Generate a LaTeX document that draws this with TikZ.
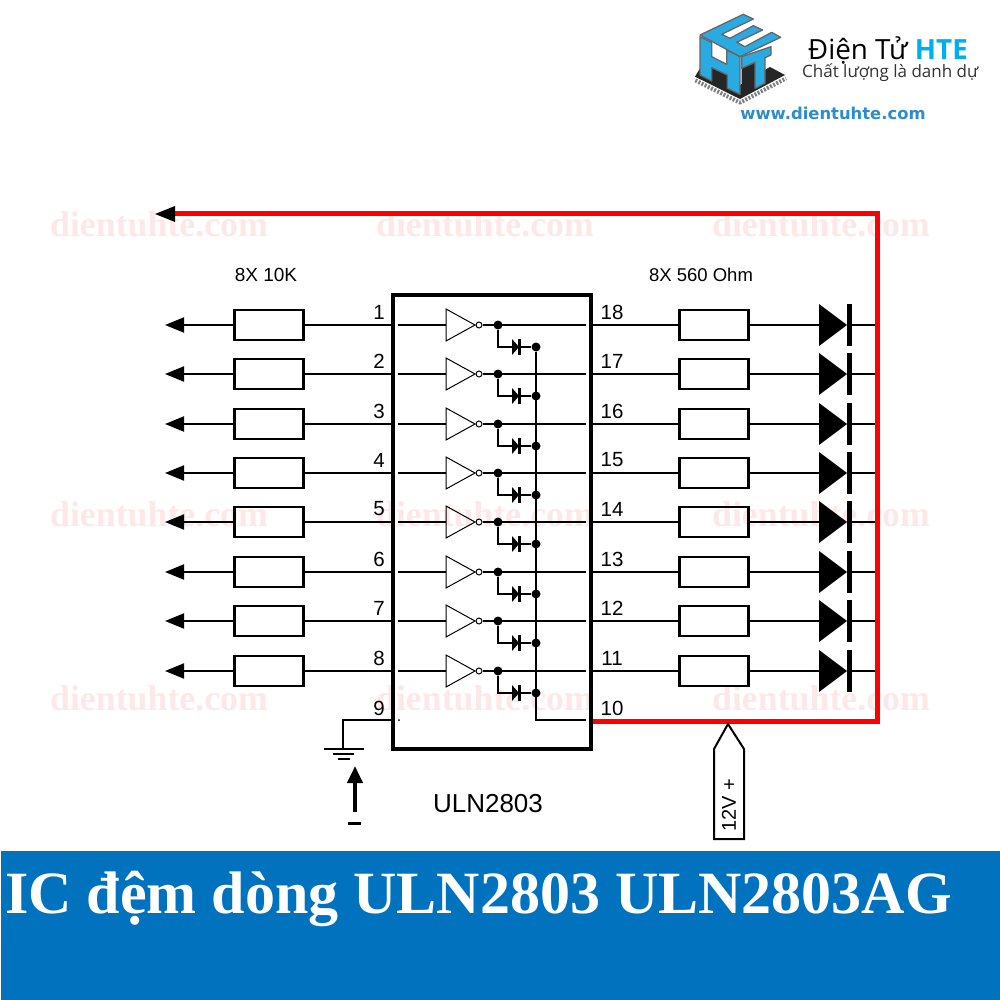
\documentclass[tikz,border=0pt]{standalone}
\usepackage{fontspec}
\setmainfont{Liberation Sans}
\newfontfamily\titlefont{Liberation Serif}
\newfontfamily\logofont{Open Sans}
\newfontfamily\urlfont{DejaVu Sans}
\usetikzlibrary{arrows.meta}
\definecolor{banner}{RGB}{1,114,190}
\definecolor{mark}{RGB}{253,232,232}
\definecolor{hteblue}{RGB}{0,174,239}
\definecolor{cubeblue}{RGB}{41,171,226}
\definecolor{urlblue}{RGB}{45,140,205}
\tikzset{
	wire/.style={line width=2pt},
	redwire/.style={line width=5pt,red},
	res/.style={draw,line width=2.5pt,minimum width=69pt,minimum height=30pt,inner sep=0},
	bubble/.style={draw,circle,line width=1pt,fill=white,minimum size=6pt,inner sep=0},
	dotnode/.style={fill,circle,minimum size=9pt,inner sep=0},
	pin/.style={font=\fontsize{20.5}{24}\selectfont,inner sep=0},
	wmark/.style={text=mark,inner sep=0,font=\titlefont\bfseries\fontsize{35.8}{40}\selectfont},
	lefttip/.style={-{Triangle[length=19pt,width=15pt]}}
}
\begin{document}
\begin{tikzpicture}[x=1pt,y=-1pt]
	\useasboundingbox (0,0) rectangle (1000,1000);
	\fill[white] (0,0) rectangle (1000,1000);
	% watermark
	\foreach \wx in {159,485,821}
		\foreach \wy in {224,514,698}
			\node[wmark] (w\wx\wy) at (\wx,\wy) {dientuhte.com};
	% logo
	\begin{scope}[shift={(690,5)},x=0.3333pt,y=-0.3333pt,line width=1.3pt,draw=black!60,line join=round]
		\draw[black!50,line width=4pt,dash pattern=on 2pt off 1.5pt] (16,226) -- (150,293) -- (288,220);
		\fill[black!85] (15,215) -- (150,282) -- (285,210) -- (240,186) -- (150,240) -- (30,190) -- cycle;
		\fill[black!85] (65,188) -- (112,210) -- (112,250) -- (65,228) -- cycle;
		\fill[black!85] (155,190) -- (195,172) -- (195,250) -- (155,270) -- cycle;
		\draw[fill=cubeblue] (30,90) -- (160,28) -- (190,42) -- (95,88) -- (120,100) -- (190,62) -- (218,75) -- (140,112) -- (165,125) -- (245,82) -- (272,97) -- (150,155) -- cycle;
		\draw[fill=cubeblue] (30,95) -- (65,113) -- (65,155) -- (110,178) -- (110,135) -- (150,155) -- (150,268) -- (112,250) -- (112,210) -- (65,188) -- (65,228) -- (30,210) -- cycle;
		\draw[fill=cubeblue] (155,155) -- (243,125) -- (243,150) -- (225,158) -- (225,235) -- (195,250) -- (195,172) -- (155,190) -- cycle;
	\end{scope}
	\node[inner sep=0,anchor=west] (brand) at (808,50) {\logofont\fontsize{27.8}{32}\selectfont Điện Tử \textcolor{hteblue}{\bfseries HTE}};
	\node[inner sep=0,anchor=west,text=black!80] (slogan) at (802,73) {\logofont\fontsize{17}{20}\selectfont Chất lượng là danh dự};
	\node[inner sep=0,text=urlblue] (url) at (833,113) {\urlfont\bfseries\fontsize{16.4}{19}\selectfont www.dientuhte.com};
	% chip
	\node[draw,line width=3.5pt,minimum width=198pt,minimum height=454pt,inner sep=0] (ic) at (492,522) {};
	\node[inner sep=0,font=\fontsize{26}{30}\selectfont] (name) at (488,804) {ULN2803};
	\node[inner sep=0,font=\fontsize{19}{22}\selectfont] (lblr1) at (266,275) {8X 10K};
	\node[inner sep=0,font=\fontsize{18.5}{22}\selectfont] (lblr2) at (701,275) {8X 560 Ohm};
	% rows
	\foreach \n/\y/\o in {1/325/18,2/374/17,3/424/16,4/473/15,5/522/14,6/572/13,7/621/12,8/671/11}{
		\coordinate (tip\n) at (165,\y);
		\node[res] (rl\n) at (269,\y) {};
		\node[res] (rr\n) at (714,\y) {};
		\node[pin] (p\n) at (379,\y-13) {\n};
		\node[pin] (p\o) at (612,\y-13) {\o};
		\coordinate (inl\n) at (398,\y);
		\coordinate (inr\n) at (586,\y);
		\coordinate (triw\n) at (446,\y);
		\coordinate (ledl\n) at (819,\y);
		\coordinate (ledr\n) at (849,\y);
		\coordinate (rail\n) at (875,\y);
		\node[bubble] (inv\n) at (479,\y) {};
		\node[dotnode] (da\n) at (498,\y) {};
		\node[dotnode] (db\n) at (536,\y+22) {};
		\draw[wire,lefttip] (rl\n) -- (tip\n);
		\draw[wire] (rl\n) -- (ic.west |- rl\n);
		\draw[wire] (inl\n) -- (triw\n);
		\draw[wire] (inv\n) -- (inr\n);
		\draw[wire] (ic.east |- rr\n) -- (rr\n);
		\draw[wire] (rr\n) -- (ledl\n);
		\draw[wire] (ledr\n) -- (rail\n);
		\draw[wire] (da\n) |- (db\n);
		\draw[line width=1pt] (446,\y-16) -- (475,\y) -- (446,\y+16) -- cycle;
		\fill (512,\y+14) -- (519,\y+22) -- (512,\y+30) -- cycle;
		\draw[line width=2.5pt] (519.5,\y+14) -- (519.5,\y+30);
		\fill (819,\y-21) -- (847,\y) -- (819,\y+21) -- cycle;
		\draw[line width=5pt] (849,\y-21) -- (849,\y+21);
	}
	% pins 9 and 10
	\node[pin] (p9) at (379,708) {9};
	\node[pin] (p10) at (612,708) {10};
	\coordinate (bend) at (343,720);
	\coordinate (gnd) at (343,749);
	\coordinate (out) at (586,720);
	\coordinate (corner) at (877,721);
	\coordinate (top) at (877,214);
	\coordinate (back) at (172,214);
	\node[fill,circle,minimum size=2pt,inner sep=0] (dot9) at (399,720) {};
	\draw[wire] (ic.west |- bend) -- (bend) -- (gnd);
	\draw[wire] (db1) -- (db1 |- out) -- (out);
	\draw[line width=2.5pt] (324,749) -- (364,749);
	\draw[line width=2.5pt] (333,754) -- (354,754);
	\draw[line width=2.5pt] (338,759) -- (350,759);
	\coordinate (gndtip) at (355,766);
	\coordinate (gndend) at (355,812);
	\draw[line width=4pt,-{Triangle[length=17pt,width=15pt]}] (gndend) -- (gndtip);
	\draw[line width=3pt] (348,823) -- (361,823);
	% supply
	\draw[redwire,line join=miter] (ic.east |- corner) -- (corner) -- (top) -- (back);
	\fill (155,214) -- (175,206) -- (175,222) -- cycle;
	\draw[line width=2pt] (728,724) -- (744,749) -- (744,839) -- (714,839) -- (714,749) -- cycle;
	\node[inner sep=0,rotate=90,font=\fontsize{20}{24}\selectfont] (vcc) at (729,805) {12V +};
	% banner
	\fill[banner] (1,851) rectangle (1000,1000);
	\node[inner sep=0,anchor=base west,text=white,font=\titlefont\bfseries\fontsize{60}{66}\selectfont] (title) at (5,913) {IC đệm dòng ULN2803 ULN2803AG};
\end{tikzpicture}
\end{document}
